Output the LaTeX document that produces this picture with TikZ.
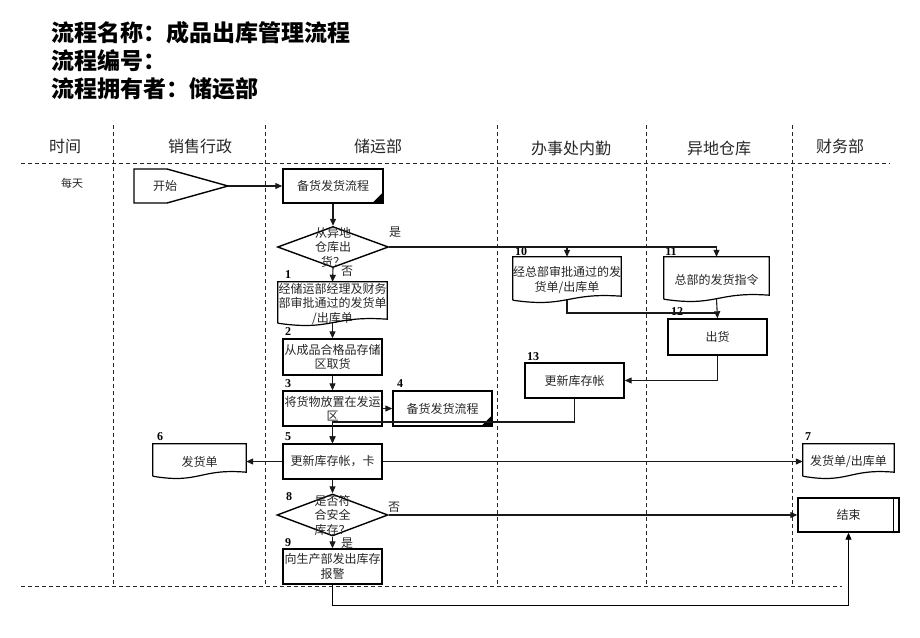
\documentclass[tikz,border=0pt]{standalone}
\usepackage{fontspec}
\setmainfont{Noto Sans CJK SC}
\newfontfamily\numfont{Liberation Serif}
\usetikzlibrary{arrows.meta,calc,shapes.geometric}

% connector and shape looks
\tikzset{
  lane/.style={line width=1pt, dash pattern=on 4pt off 3pt, black!85},
  line/.style={line width=1.1pt, black!90},
  arrow/.style={line, -{Triangle[length=7pt,width=6pt]}},
  txt/.style={font=\fontsize{12}{14.5}\selectfont, text=black!85, align=center, inner sep=0pt},
  box/.style={txt, draw=black, line width=1.4pt, minimum width=99pt, minimum height=35pt},
  doc/.style={txt, minimum width=99pt, minimum height=35pt},
  dec/.style={draw=black, line width=1.4pt, diamond, minimum width=111pt, minimum height=41pt, inner sep=0pt},
  num/.style={font=\numfont\bfseries\fontsize{12}{12}\selectfont, inner sep=0pt},
  lanehead/.style={font=\fontsize{16}{18}\selectfont, text=black!85},
  yesno/.style={font=\fontsize{12}{12}\selectfont, text=black!85, inner sep=0pt}
}

% outline of a document node (wavy bottom)
\newcommand{\docline}[1]{%
  \draw[line width=1.2pt] ([yshift=3pt]#1.south west) -- (#1.north west) -- (#1.north east)
    -- ([yshift=7pt]#1.south east)
    .. controls ($(#1.south east)!0.5!(#1.south west)+(0,-11)$)
    and ($(#1.south east)!0.5!(#1.south west)+(0,5)$) .. ([yshift=3pt]#1.south west);}
% black corner of a predefined process
\newcommand{\prepmark}[1]{%
  \fill ([xshift=-12pt]#1.south east) -- (#1.south east) -- ([yshift=12pt]#1.south east) -- cycle;}

\begin{document}
\begin{tikzpicture}[x=1pt, y=-1pt]
  \useasboundingbox (0,0) rectangle (920,637);

  % title
  \node[anchor=west, font=\bfseries\fontsize{23}{26}\selectfont, inner sep=0pt] (title1) at (51,33) {流程名称：成品出库管理流程};
  \node[anchor=west, font=\bfseries\fontsize{23}{26}\selectfont, inner sep=0pt] (title2) at (51,61) {流程编号：};
  \node[anchor=west, font=\bfseries\fontsize{23}{26}\selectfont, inner sep=0pt] (title3) at (51,89) {流程拥有者：储运部};

  % lanes
  \draw[lane] (21,163) -- (890,163);
  \draw[lane] (21,586) -- (842,586);
  \foreach \lx in {113,265,497,646,792}
    \draw[lane] (\lx,125) -- (\lx,586);

  \node[lanehead] (hTime) at (65,146) {时间};
  \node[lanehead] (hSales) at (200,146) {销售行政};
  \node[lanehead] (hStore) at (378,146) {储运部};
  \node[lanehead] (hOffice) at (571,148) {办事处内勤};
  \node[lanehead] (hRemote) at (719,148) {异地仓库};
  \node[lanehead] (hFin) at (840,146) {财务部};
  \node[txt, font=\fontsize{11}{13}\selectfont] (daily) at (72,183) {每天};

  % start
  \draw[line width=1.4pt] (134,169) -- (167,169) -- (228,186) -- (167,203) -- (134,203) -- cycle;
  \node[txt] (start) at (165,186) {开始};
  \coordinate (starttip) at (228,186);

  % storage lane
  \node[box, minimum width=100pt, minimum height=34pt] (prepA) at (333,186) {备货发货流程};
  \prepmark{prepA}
  \node[dec, label={[txt]center:从异地\\仓库出\\货？}] (fromRemote) at (333,247) {};
  \node[doc, minimum width=109pt, minimum height=44pt] (orderA) at (332.5,304) {经储运部经理及财务\\部审批通过的发货单\\/出库单};
  \docline{orderA}
  \node[box, minimum height=36pt] (pick) at (332.5,357) {从成品合格品存储\\区取货};
  \node[box] (place) at (332.5,408.5) {将货物放置在发运\\区};
  \node[box] (prepB) at (442.5,408.5) {备货发货流程};
  \prepmark{prepB}
  \node[box] (update) at (332.5,461.5) {更新库存帐，卡};
  \node[dec, minimum height=42pt, label={[txt]center:是否符\\合安全\\库存？}] (safeStock) at (332.5,515) {};
  \node[box] (alarm) at (332.5,566.5) {向生产部发出库存\\报警};

  % other lanes
  \node[doc, minimum width=93pt] (invoice) at (199.5,461.5) {发货单};
  \docline{invoice}
  \node[doc, minimum width=91pt] (invoiceB) at (848.5,461.5) {发货单/出库单};
  \docline{invoiceB}
  \node[box, minimum width=101pt, minimum height=34pt] (finish) at (848.5,515) {结束};
  \draw[line width=1.4pt] ([xshift=-6pt]finish.north east) -- ([xshift=-6pt]finish.south east);
  \node[doc, minimum width=108pt, minimum height=46pt] (orderB) at (567,280) {经总部审批通过的发\\货单/出库单};
  \docline{orderB}
  \node[doc, minimum width=105pt, minimum height=45pt] (command) at (716.5,279.5) {总部的发货指令};
  \docline{command}
  \node[box, minimum height=36pt] (ship) at (717.5,337) {出货};
  \node[box] (updateB) at (574.5,380.5) {更新库存帐};

  % step numbers
  \node[num] (n1) at (288,275) {1};
  \node[num] (n2) at (288,332) {2};
  \node[num] (n3) at (288,384) {3};
  \node[num] (n4) at (400,384) {4};
  \node[num] (n5) at (288,437) {5};
  \node[num] (n6) at (160,437) {6};
  \node[num] (n7) at (808,437) {7};
  \node[num] (n8) at (289,497) {8};
  \node[num] (n9) at (288,543) {9};
  \node[num] (n10) at (521,252) {10};
  \node[num] (n11) at (671,252) {11};
  \node[num] (n12) at (677,312) {12};
  \node[num] (n13) at (533,357) {13};

  % yes / no
  \node[yesno] (yes1) at (395,232) {是};
  \node[yesno] (no1) at (347,271) {否};
  \node[yesno] (no2) at (394,507) {否};
  \node[yesno] (yes2) at (347,543) {是};

  % connectors
  \draw[arrow] (starttip) -- (prepA.west);
  \draw[arrow] (prepA.south) -- (fromRemote.north);
  \draw[arrow] (fromRemote.east) -| (command.north);
  \draw[arrow] (orderB.north |- fromRemote.east) -- (orderB.north);
  \draw[arrow] (fromRemote.south) -- (orderA.north);
  \draw[arrow] ([yshift=3pt]orderA.south) -- (pick.north);
  \draw[arrow] (pick.south) -- (place.north);
  \draw[arrow] (place.east) -- (prepB.west);
  \draw[arrow] (place.south) -- (update.north);
  \draw[arrow] (update.west) -- (invoice.east |- update.west);
  \draw[arrow] (update.east) -- (invoiceB.west |- update.east);
  \draw[arrow] (update.south) -- (safeStock.north);
  \draw[arrow] (safeStock.east) -- (finish.west);
  \draw[arrow] (safeStock.south) -- (alarm.north);
  \coordinate (alarmdown) at (332.5,605);
  \draw[line width=0.9pt, -{Triangle[length=7pt,width=6pt]}] (alarm.south) -- (alarmdown) -| (finish.south);
  \coordinate (orderjoin) at (567,313);
  \draw[line] ([yshift=3pt]orderB.south) -- (orderjoin) -- (command.south |- orderjoin);
  \draw[arrow] ([yshift=3pt]command.south) -- (ship.north);
  \draw[arrow] (ship.south) |- (updateB.east);
  \coordinate (updjoin) at (574.5,422);
  \draw[arrow] (updateB.south) -- (updjoin) -| (update.north);
\end{tikzpicture}
\end{document}
